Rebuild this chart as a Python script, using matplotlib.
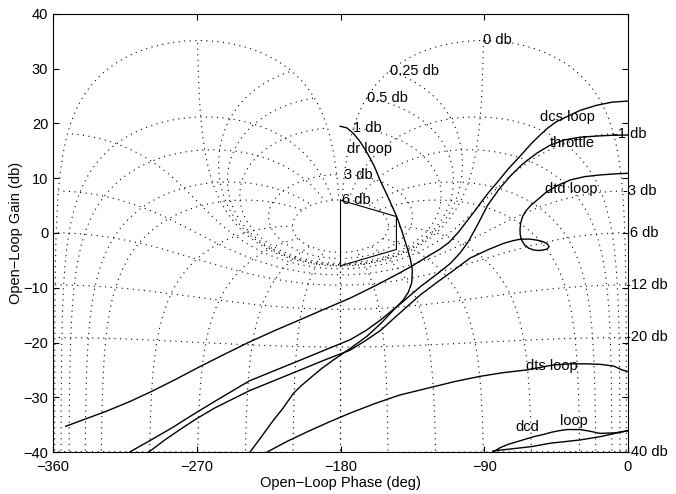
import numpy as np
import matplotlib
matplotlib.use('Agg')
import matplotlib.pyplot as plt

plt.rcParams['font.family'] = ['Liberation Sans', 'DejaVu Sans']
plt.rcParams['font.size'] = 10.5

# ---- Nichols grid specification (closed-loop gains in dB, closed-loop phases in deg)
cl_gain_db = [6, 3, 1, 0.5, 0.25, 0, -1, -3, -6, -12, -20, -40]
cl_gain_labels = ['6 db', '3 db', '1 db', '0.5 db', '0.25 db', '0 db',
                  '-1 db', '-3 db', '-6 db', '-12 db', '-20 db', '-40 db']
cl_phase_deg = [1, 5, 10, 20, 30, 60, 90, 120, 150, 180]

# ---- open-loop responses (phase deg, gain dB)
dcs_phase = [-352, -340, -327, -312, -298, -283, -268, -253, -237, -221, -205, -190, -174,
             -158, -143, -135, -125, -118, -112, -106, -100, -96, -92, -87, -82, -75,
             -68, -60, -51, -45, -40, -30, -20, -10, 0]
dcs_gain = [-35.3, -34.0, -32.6, -30.8, -28.9, -26.7, -24.4, -22.2, -19.9, -17.8, -15.8,
            -13.9, -11.9, -9.6, -7.3, -6.0, -4.2, -3.0, -1.7, 0.2, 2.5, 4.0, 5.6, 7.5,
            9.2, 11.7, 13.9, 16.5, 19.0, 20.3, 21.0, 22.4, 23.3, 23.9, 24.1]

throttle_phase = [-312, -298, -285, -272, -259, -248, -237, -221, -205, -190, -174, -164,
                  -155, -142, -130, -120, -111, -105, -100, -94, -88, -81, -74, -66,
                  -57, -49, -40, -30, -20, -10, 0]
throttle_gain = [-40, -37.7, -35.5, -33.1, -30.8, -28.9, -27.0, -25.1, -23.2, -21.4,
                 -19.5, -17.8, -15.9, -12.8, -9.8, -7.6, -5.5, -3.6, -1.6, 1.6, 5.0,
                 7.9, 10.3, 12.6, 14.6, 16.0, 17.0, 17.5, 17.7, 17.85, 17.9]

dtd_phase = [-300, -290, -280, -270, -259, -248, -237, -221, -205, -190, -174, -164,
             -155, -142, -130, -120, -110, -99, -88, -78, -72, -67.6, -62, -57, -53,
             -50.5, -49.4, -50.5, -53, -56, -59, -62, -64.6, -66.5, -67.5, -67.6,
             -67.2, -66, -64, -61, -57, -51, -44, -36, -27, -17.5, -8, 0]
dtd_gain = [-40, -37.8, -35.8, -33.9, -32.0, -30.4, -28.8, -26.9, -25.0, -23.2, -21.4,
            -19.6, -17.8, -14.4, -11.3, -9.1, -7.0, -4.6, -3.1, -1.9, -1.4, -1.15, -1.1,
            -1.3, -1.6, -2.0, -2.5, -2.9, -3.1, -3.2, -3.1, -2.8, -2.2, -1.4, -0.3,
            0.7, 1.8, 3.0, 4.0, 5.0, 6.0, 7.5, 8.7, 9.7, 10.3, 10.6, 10.8, 10.9]

dr_phase = [-236.6, -229, -222, -216, -209.5, -205, -199, -192, -184.5, -174, -163.6,
            -155, -146.9, -140.6, -137.5, -135.4, -135, -136.3, -138.5, -141.5, -144.8,
            -150, -155.3, -159, -163.6, -168, -172, -176, -180.2]
dr_gain = [-40, -37.0, -34.2, -32.0, -29.3, -28.0, -26.5, -24.8, -23.2, -21.1, -18.9,
           -16.6, -14.1, -12.2, -10.8, -9.1, -6.8, -4.7, -2.5, 0.3, 3.0,
           6.4, 9.7, 12.3, 14.8, 16.8, 18.2, 19.2, 19.5]

dts_phase = [-226, -213, -200, -187, -174, -158, -143, -122, -108, -93, -78, -63, -47,
             -36, -26, -17, -9, -3.8, 0]
dts_gain = [-40, -38.0, -36.2, -34.5, -32.9, -31.1, -29.6, -28.1, -27.1, -26.2, -25.5,
            -25.0, -24.1, -23.9, -23.9, -24.0, -24.3, -25.0, -25.3]

dcd_phase = [-84.5, -80, -75, -67, -59, -53, -48, -43, -38, -30, -24, -17.5, -8, 0]
dcd_gain = [-40, -39.2, -38.6, -37.9, -37.2, -36.8, -36.4, -36.1, -35.9, -35.9, -36.2,
            -36.6, -36.5, -36.1]

loop_phase = [-84.5, -72, -60, -48.8, -30, -17.5, -8, 0]
loop_gain = [-39.8, -39.4, -39.0, -38.4, -37.8, -37.2, -36.6, -36.1]

box_phase = [-180, -145, -145, -180, -180]
box_gain = [6, 3, -3, -6, 6]

curve_labels = ['dr loop', 'dcs loop', 'throttle', 'dtd loop', 'dts loop', 'dcd', 'loop']
label_phase = [-175.9, -55.1, -48.8, -51.9, -63.8, -70.7, -42.5]
label_gain = [15.3, 21.2, 16.4, 8.0, -24.3, -35.5, -34.3]

fig = plt.figure(figsize=(6.76, 4.94), dpi=100)
ax = fig.add_axes([53 / 676, 42 / 494, 575 / 676, 438 / 494])

dot = dict(color='black', lw=0.8, linestyle=(0, (1, 4)))

# closed-loop gain contours
theta = np.radians(np.linspace(1, 359, 1500))
for gdb, lab in zip(cl_gain_db, cl_gain_labels):
    m = 10 ** (gdb / 20)
    T = m * np.exp(-1j * theta)
    G = T / (1 - T)
    ph = np.degrees(np.unwrap(np.angle(G)))
    if ph[0] > 0:
        ph -= 360
    gn = 20 * np.log10(np.abs(G))
    ax.plot(ph, gn, **dot)
    ax.text(ph[0], gn[0], lab, ha='left', va='center', clip_on=False)

# closed-loop phase contours
mvals = 10 ** (np.linspace(-60, 6, 2500) / 20)
for p in cl_phase_deg:
    T = mvals * np.exp(-1j * np.radians(p))
    G = T / (1 - T)
    ph = np.degrees(np.unwrap(np.angle(G)))
    if ph[0] > 0:
        ph -= 360
    gn = 20 * np.log10(np.abs(G))
    ax.plot(ph, gn, **dot)
    ax.plot(-360 - ph, gn, **dot)

lw = 1.0
for xs, ys in [(dcs_phase, dcs_gain), (throttle_phase, throttle_gain),
               (dtd_phase, dtd_gain), (dr_phase, dr_gain), (dts_phase, dts_gain),
               (dcd_phase, dcd_gain), (loop_phase, loop_gain)]:
    ax.plot(xs, ys, color='black', lw=lw, solid_joinstyle='round')
ax.plot(box_phase, box_gain, color='black', lw=0.8)

for t, x, y in zip(curve_labels, label_phase, label_gain):
    ax.text(x, y, t, ha='left', va='center')

ax.set_xlim(-360, 0)
ax.set_ylim(-40, 40)
ax.set_xticks([-360, -270, -180, -90, 0])
ax.set_yticks(range(-40, 41, 10))
ax.tick_params(direction='in', top=True, right=True, length=4, width=0.8)
ax.tick_params(axis='x', pad=6)
for s in ax.spines.values():
    s.set_linewidth(0.8)
ax.set_xlabel('Open\u2212Loop Phase (deg)', labelpad=1)
ax.set_ylabel('Open\u2212Loop Gain (db)', labelpad=0)

fig.savefig('out.png', dpi=100)
